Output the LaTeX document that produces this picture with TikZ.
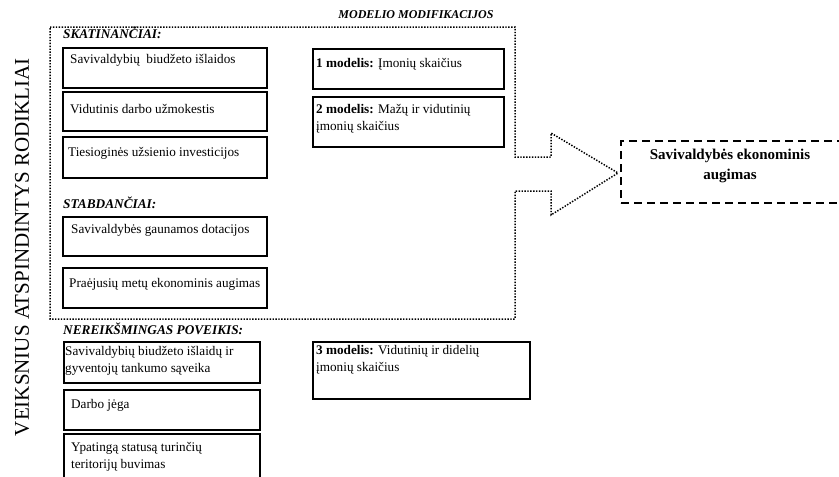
\documentclass[tikz,border=0pt]{standalone}
\usepackage{fontspec}
\setmainfont{Liberation Serif}
\begin{document}
\begin{tikzpicture}[x=1pt,y=-1pt,
  box/.style={draw, line width=1.8pt, outer sep=0pt, inner sep=0pt, anchor=north west},
  txt/.style={anchor=base west, inner sep=0pt, font=\fontsize{13.2}{17}\selectfont, align=left},
  head/.style={anchor=base west, inner sep=0pt, font=\fontsize{13.3}{16}\selectfont\bfseries\itshape},
  frame/.style={line width=1.5pt, dash pattern=on 1.4pt off 1.5pt},
  goalbox/.style={draw, line width=1.8pt, dash pattern=on 8pt off 5pt, outer sep=0pt, inner sep=0pt},
  goaltext/.style={inner sep=0pt, align=center, font=\fontsize{15}{20}\selectfont\bfseries},
]
\useasboundingbox (0,0) rectangle (839,477);

% vertical axis caption
\node[rotate=90, inner sep=0pt, font=\fontsize{21}{21}\selectfont] (axis) at (22,247)
  {VEIKSNIUS ATSPINDINTYS RODIKLIAI};

% dotted frame ending in an arrow
\draw[frame] (50,27) -- (515,27) -- (515,157) -- (551,157) -- (551,133) -- (618,173)
  -- (551,215) -- (551,191) -- (515,191) -- (515,319) -- (50,319) -- cycle;

\node[inner sep=0pt, font=\fontsize{12}{12}\selectfont\bfseries\itshape] (title) at (416,15)
  {MODELIO MODIFIKACIJOS};

% stimulating factors
\node[head] (hs) at (63,38) {SKATINANČIAI:};
\node[box, minimum width=204pt, minimum height=40pt] (b1) at (63,48) {};
\node[txt] (b1t) at (70,63) {Savivaldybių~ biudžeto išlaidos};
\node[box, minimum width=204pt, minimum height=39pt] (b2) at (63,92) {};
\node[txt] (b2t) at (70,113) {Vidutinis darbo užmokestis};
\node[box, minimum width=204pt, minimum height=41pt] (b3) at (63,137) {};
\node[txt] (b3t) at (68,156) {Tiesioginės užsienio investicijos};

% restraining factors
\node[head] (hb) at (63,208) {STABDANČIAI:};
\node[box, minimum width=204pt, minimum height=39pt] (b4) at (63,217) {};
\node[txt] (b4t) at (71,233) {Savivaldybės gaunamos dotacijos};
\node[box, minimum width=204pt, minimum height=40pt] (b5) at (63,268) {};
\node[txt] (b5t) at (69,287) {Praėjusių metų ekonominis augimas};

% insignificant factors (multi-line texts are anchored at their last baseline)
\node[head] (hn) at (63,334) {NEREIKŠMINGAS POVEIKIS:};
\node[box, minimum width=196pt, minimum height=41pt] (b6) at (64,342) {};
\node[txt] (b6t) at (65,372) {Savivaldybių biudžeto išlaidų ir\\gyventojų tankumo sąveika};
\node[box, minimum width=196pt, minimum height=40pt] (b7) at (64,390) {};
\node[txt] (b7t) at (71,408) {Darbo jėga};
\node[box, minimum width=196pt, minimum height=60pt] (b8) at (64,434) {};
\node[txt] (b8t) at (71,468) {Ypatingą statusą turinčių\\teritorijų buvimas};

% model variants
\node[box, minimum width=191pt, minimum height=40pt] (m1) at (313,49) {};
\node[txt] (m1t) at (316,67) {\textbf{1 modelis:} Įmonių skaičius};
\node[box, minimum width=191pt, minimum height=50pt] (m2) at (313,97) {};
\node[txt] (m2t) at (316,130) {\textbf{2 modelis:} Mažų ir vidutinių\\įmonių skaičius};
\node[box, minimum width=217pt, minimum height=57pt] (m3) at (313,342) {};
\node[txt] (m3t) at (316,371) {\textbf{3 modelis:} Vidutinių ir didelių\\įmonių skaičius};

% outcome
\node[goalbox, minimum width=224pt, minimum height=62pt] (goal) at (733,172) {};
\node[goaltext] (goalt) at (730,166) {Savivaldybės ekonominis\\augimas};
\end{tikzpicture}
\end{document}
